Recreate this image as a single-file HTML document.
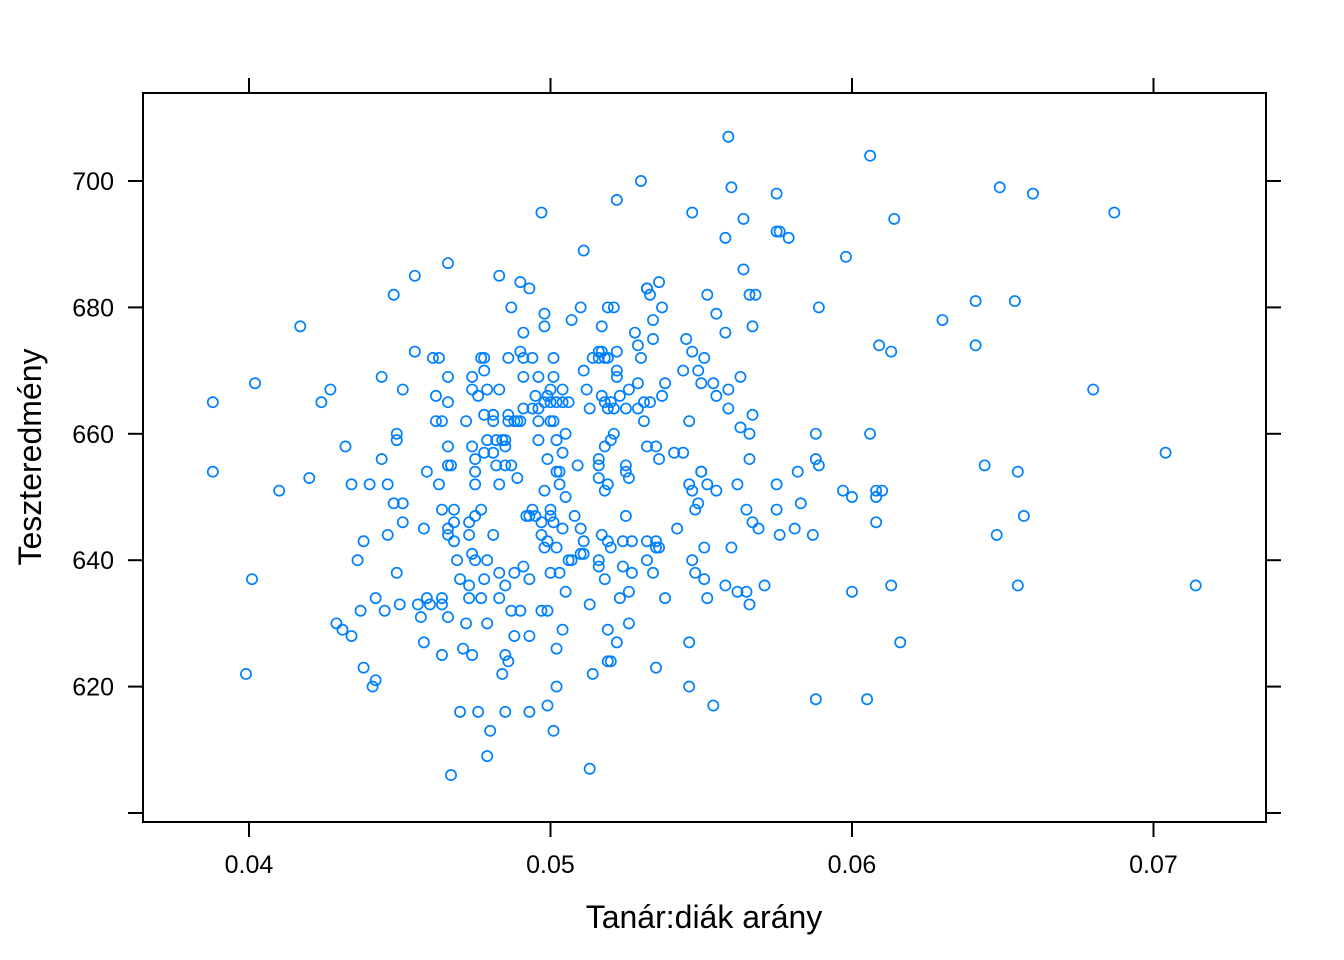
<!DOCTYPE html>
<html><head><meta charset="utf-8"><style>
html,body{margin:0;padding:0;background:#fff;}
svg{display:block;font-family:"Liberation Sans",Arial,sans-serif;}
</style></head><body>
<svg id="chart" width="1344" height="960" viewBox="0 0 1344 960" xmlns="http://www.w3.org/2000/svg">
<rect x="143" y="93" width="1123" height="729" fill="none" stroke="#000" stroke-width="2"/>
<g id="ticks"></g>
<g id="points"></g>
<text x="704" y="928" font-size="32" text-anchor="middle">Tanár:diák arány</text>
<text transform="translate(41,457) rotate(-90)" font-size="32" text-anchor="middle">Teszteredmény</text>
</svg>
<script>
const xTicks = [0.04, 0.05, 0.06, 0.07];
const xTickLabels = ["0.04", "0.05", "0.06", "0.07"];
const yTicks = [600, 620, 640, 660, 680, 700];
const yTickLabels = ["", "620", "640", "660", "680", "700"];
const xs = [0.0388,0.0388,0.0402,0.0401,0.0399,0.041,0.0417,0.042,0.0424,0.0427,0.0429,0.0431,0.0432,0.0434,0.0434,0.0436,0.0437,0.0438,0.0438,0.044,0.0442,0.0442,0.0441,0.0444,0.0444,0.0445,0.0446,0.0448,0.0446,0.0448,0.0449,0.0449,0.0449,0.045,0.0451,0.0451,0.0451,0.0455,0.0455,0.0456,0.0457,0.0458,0.0458,0.0459,0.0459,0.046,0.0461,0.0462,0.0462,0.0463,0.0464,0.0464,0.0464,0.0464,0.0464,0.0463,0.0466,0.0466,0.0466,0.0466,0.0466,0.0466,0.0466,0.0466,0.0467,0.0468,0.0468,0.0468,0.0467,0.0469,0.047,0.047,0.0471,0.0472,0.0472,0.0473,0.0473,0.0473,0.0473,0.0474,0.0474,0.0474,0.0474,0.0475,0.0475,0.0475,0.0474,0.0475,0.0475,0.0476,0.0476,0.0477,0.0477,0.0477,0.0478,0.0478,0.0478,0.0479,0.0478,0.0478,0.0479,0.0479,0.0479,0.0479,0.048,0.0481,0.0481,0.0481,0.0481,0.0482,0.0482,0.0483,0.0483,0.0483,0.0483,0.0483,0.0484,0.0484,0.0485,0.0485,0.0485,0.0485,0.0485,0.0485,0.0486,0.0486,0.0486,0.0486,0.0487,0.0487,0.0487,0.0488,0.0488,0.0488,0.0489,0.0489,0.049,0.049,0.049,0.049,0.0491,0.0491,0.0491,0.0491,0.0491,0.0492,0.0493,0.0493,0.0493,0.0493,0.0493,0.0494,0.0494,0.0494,0.0495,0.0495,0.0496,0.0496,0.0497,0.0496,0.0496,0.0497,0.0497,0.0497,0.0498,0.0498,0.0498,0.0498,0.0498,0.0499,0.0499,0.0499,0.0499,0.0499,0.05,0.05,0.05,0.05,0.05,0.05,0.0501,0.0501,0.0501,0.0501,0.0501,0.0502,0.0502,0.0502,0.0502,0.0502,0.0502,0.0503,0.0503,0.0503,0.0504,0.0504,0.0504,0.0504,0.0504,0.0505,0.0505,0.0505,0.0506,0.0506,0.0507,0.0507,0.0508,0.0509,0.051,0.051,0.051,0.0511,0.0511,0.0511,0.0511,0.0512,0.0513,0.0513,0.0513,0.0514,0.0514,0.0516,0.0516,0.0516,0.0516,0.0516,0.0516,0.0516,0.0517,0.0517,0.0517,0.0517,0.0518,0.0518,0.0518,0.0518,0.0518,0.0519,0.0519,0.0519,0.0519,0.0519,0.0519,0.0519,0.052,0.052,0.052,0.052,0.0521,0.0521,0.0521,0.0522,0.0522,0.0522,0.0522,0.0522,0.0523,0.0523,0.0524,0.0524,0.0525,0.0525,0.0525,0.0525,0.0526,0.0526,0.0526,0.0526,0.0527,0.0527,0.0528,0.0529,0.0529,0.053,0.0529,0.0531,0.053,0.0531,0.0532,0.0532,0.0532,0.0532,0.0533,0.0532,0.0533,0.0534,0.0534,0.0534,0.0535,0.0535,0.0535,0.0535,0.0536,0.0536,0.0536,0.0537,0.0537,0.0538,0.0538,0.0541,0.0542,0.0544,0.0544,0.0545,0.0546,0.0546,0.0546,0.0546,0.0547,0.0547,0.0547,0.0547,0.0548,0.0548,0.0549,0.0549,0.055,0.055,0.055,0.0551,0.0551,0.0551,0.0552,0.0552,0.0552,0.0554,0.0554,0.0555,0.0555,0.0555,0.0558,0.0558,0.0558,0.0559,0.0559,0.0559,0.056,0.056,0.0562,0.0562,0.0563,0.0563,0.0564,0.0564,0.0565,0.0565,0.0566,0.0566,0.0566,0.0566,0.0567,0.0567,0.0567,0.0568,0.0569,0.0571,0.0575,0.0575,0.0575,0.0575,0.0576,0.0576,0.0579,0.0581,0.0582,0.0583,0.0587,0.0588,0.0588,0.0588,0.0589,0.0589,0.0597,0.0598,0.06,0.06,0.0605,0.0606,0.0606,0.0608,0.0608,0.0608,0.0609,0.061,0.0613,0.0613,0.0614,0.0616,0.063,0.0641,0.0641,0.0644,0.0648,0.0649,0.0654,0.0655,0.0655,0.0657,0.066,0.068,0.0687,0.0704,0.0714];
const ys = [665,654,668,637,622,651,677,653,665,667,630,629,658,652,628,640,632,623,643,652,634,621,620,669,656,632,652,682,644,649,660,659,638,633,649,667,646,685,673,633,631,627,645,654,634,633,672,666,662,672,633,662,634,648,625,652,687,665,669,658,655,645,644,631,655,648,646,643,606,640,637,616,626,630,662,646,644,636,634,667,669,641,625,656,654,652,658,647,640,666,616,634,672,648,657,672,670,667,663,637,630,609,640,659,613,657,663,644,662,659,655,652,685,634,638,667,659,622,658,655,636,659,625,616,672,663,662,624,680,655,632,662,628,638,653,662,673,684,632,662,639,672,676,669,664,647,647,683,628,616,637,664,672,648,666,647,664,662,695,669,659,646,644,632,651,679,665,642,677,656,632,666,643,617,638,662,647,648,667,665,646,672,662,613,669,665,654,659,642,626,620,638,654,652,667,657,629,645,665,660,635,650,640,665,678,640,647,655,641,645,680,641,689,643,670,667,664,607,633,672,622,640,653,656,672,673,655,639,644,666,677,673,658,637,651,665,672,652,672,643,664,624,629,680,624,659,642,665,660,680,664,627,673,697,670,669,634,666,643,639,654,664,655,647,653,667,630,635,638,643,676,674,668,700,664,665,672,662,683,643,640,683,665,658,682,638,678,675,658,642,643,623,656,684,642,666,680,668,634,657,645,670,657,675,627,620,662,652,640,673,651,695,638,648,670,649,654,668,654,642,672,637,634,682,652,617,668,666,651,679,676,691,636,664,667,707,699,642,652,635,661,669,686,694,648,635,633,656,682,660,663,677,646,682,645,636,698,692,652,648,644,692,691,645,654,649,644,660,618,656,655,680,651,688,650,635,618,660,704,651,650,646,674,651,636,673,694,627,678,681,674,655,644,699,681,654,636,647,698,667,695,657,636];

const X0 = 249, XPX = 30150;
const Y0 = 181, YPX = 6.32;
function xScale(v){ return X0 + (v - 0.04) * XPX; }
function yScale(v){ return Y0 + (700 - v) * YPX; }
const NS = "http://www.w3.org/2000/svg";
const tg = document.getElementById('ticks');
function line(x1,y1,x2,y2){
  const l = document.createElementNS(NS,'line');
  l.setAttribute('x1',x1);l.setAttribute('y1',y1);l.setAttribute('x2',x2);l.setAttribute('y2',y2);
  l.setAttribute('stroke','#000');l.setAttribute('stroke-width','2');
  
  
  tg.appendChild(l);
}
xTicks.forEach((t,i)=>{
  const x = xScale(t);
  line(x,822,x,837); line(x,93,x,78);
  const tx = document.createElementNS(NS,'text');
  tx.setAttribute('x',x);tx.setAttribute('y',873);tx.setAttribute('font-size','25');tx.setAttribute('text-anchor','middle');
  tx.textContent = xTickLabels[i];
  
  
  tg.appendChild(tx);
});
yTicks.forEach((t,i)=>{
  const y = yScale(t);
  line(143,y,128,y); line(1266,y,1281,y);
  if (yTickLabels[i]) {
    const tx = document.createElementNS(NS,'text');
    tx.setAttribute('x',114);tx.setAttribute('y',y+9);tx.setAttribute('font-size','25');tx.setAttribute('text-anchor','end');
    tx.textContent = yTickLabels[i];
    
    
    tg.appendChild(tx);
  }
});
const pg = document.getElementById('points');
xs.forEach((v,i)=>{
  const c = document.createElementNS(NS,'circle');
  c.setAttribute('cx', xScale(v)); c.setAttribute('cy', yScale(ys[i])); c.setAttribute('r', 5.1);
  c.setAttribute('fill','none'); c.setAttribute('stroke','#0080ff'); c.setAttribute('stroke-width','1.7');
  
  
  pg.appendChild(c);
});
</script>
</body></html>
